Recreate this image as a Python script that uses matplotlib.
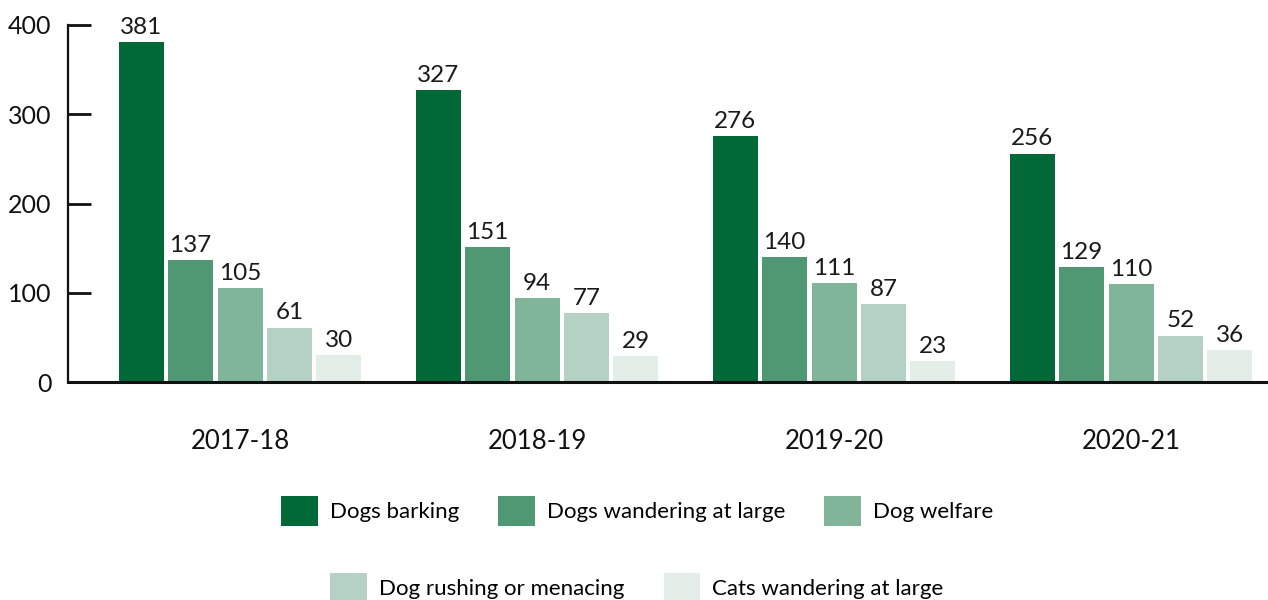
import numpy as np
import matplotlib
matplotlib.use("Agg")
import matplotlib.pyplot as plt
from matplotlib.patches import Patch

# Data
Years = ["2017-18", "2018-19", "2019-20", "2020-21"]
Series = ["Dogs barking", "Dogs wandering at large", "Dog welfare",
          "Dog rushing or menacing", "Cats wandering at large"]
DogsBarking = [381, 327, 276, 256]
DogsWandering = [137, 151, 140, 129]
DogWelfare = [105, 94, 111, 110]
DogRushing = [61, 77, 87, 52]
CatsWandering = [30, 29, 23, 36]
Colors = ["#006937", "#509873", "#81b59a", "#b4d1c3", "#e3eee8"]

AllValues = [DogsBarking, DogsWandering, DogWelfare, DogRushing, CatsWandering]

plt.rcParams['font.family'] = ['Lato', 'DejaVu Sans']

fig = plt.figure(figsize=(12.68, 6.0), dpi=100)
ax = fig.add_axes([68/1268, 1 - 382/600, 1200/1268, 357/600])

x = np.arange(len(Years))
pitch = 49.4/297
width = 45/297

for i, (vals, col, name) in enumerate(zip(AllValues, Colors, Series)):
  rects = ax.bar(x + (i - 2) * pitch, vals, width, color=col, label=name)
  for rect in rects:
    h = rect.get_height()
    ax.annotate('{}'.format(h),
      xy=(rect.get_x() + rect.get_width() / 2, h),
      xytext=(0, 3), textcoords="offset points",
      ha='center', va='bottom', fontsize=17.5, color='#1a1a1a')

ax.set_xlim((68 - 240)/297, (1268 - 240)/297)
ax.set_ylim(0, 400)
ax.set_yticks([0, 100, 200, 300, 400])
ax.set_xticks(x)
ax.set_xticklabels(Years)

for s in ['top', 'right']:
  ax.spines[s].set_visible(False)
ax.spines['left'].set_linewidth(1.6)
ax.spines['bottom'].set_linewidth(2.2)
ax.spines['left'].set_color('#111111')
ax.spines['bottom'].set_color('#111111')

ax.tick_params(axis='y', direction='in', length=16.5, width=2, pad=12,
               labelsize=18, colors='#111111')
ax.tick_params(axis='x', length=0, pad=34, labelsize=18.5, colors='#111111')

# Legend in two centered rows
h = [Patch(facecolor=c) for c in Colors]
common = dict(frameon=False, fontsize=16, handlelength=1.65, handleheight=1.7,
              handletextpad=0.55, columnspacing=1.75, borderpad=0, borderaxespad=0)
fig.legend(h[:3], Series[:3], ncol=3, loc='center',
           bbox_to_anchor=(637/1268, 1 - 511/600), **common)
fig.legend(h[3:], Series[3:], ncol=2, loc='center',
           bbox_to_anchor=(637/1268, 1 - 588/600), **common)

fig.savefig('out.png', dpi=100)
